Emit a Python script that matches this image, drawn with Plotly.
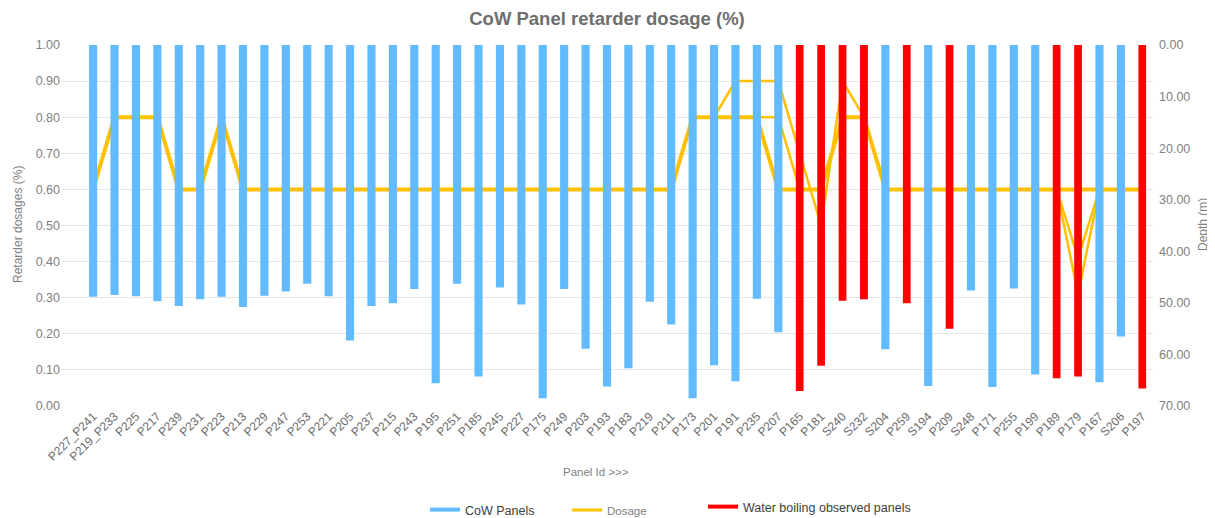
import plotly.graph_objects as go

panels = ["P227_P241", "P219_P233", "P225", "P217", "P239", "P231", "P223", "P213", "P229", "P247",
          "P253", "P221", "P205", "P237", "P215", "P243", "P195", "P251", "P185", "P245",
          "P227", "P175", "P249", "P203", "P193", "P183", "P219", "P211", "P173", "P201",
          "P191", "P235", "P207", "P165", "P181", "S240", "S232", "S204", "P259", "S194",
          "P209", "S248", "P171", "P255", "P199", "P189", "P179", "P167", "S206", "P197"]

depth_m = [48.8, 48.5, 48.7, 49.7, 50.6, 49.3, 48.8, 50.8, 48.6, 47.8,
           46.3, 48.7, 57.3, 50.6, 50.1, 47.3, 65.6, 46.3, 64.3, 47.0,
           50.3, 68.5, 47.3, 58.9, 66.2, 62.7, 49.8, 54.2, 68.5, 62.1,
           65.2, 49.2, 55.7, 67.1, 62.2, 49.6, 49.3, 59.0, 50.1, 66.1,
           55.0, 47.6, 66.3, 47.2, 63.9, 64.6, 64.3, 65.4, 56.5, 66.6]

boiling_panels = ["P165", "P181", "S240", "S232", "P259", "P209", "P189", "P179", "P197"]
cow_also_drawn = ["S232"]

dosage = [0.60, 0.80, 0.80, 0.80, 0.60, 0.60, 0.80, 0.60, 0.60, 0.60,
          0.60, 0.60, 0.60, 0.60, 0.60, 0.60, 0.60, 0.60, 0.60, 0.60,
          0.60, 0.60, 0.60, 0.60, 0.60, 0.60, 0.60, 0.60, 0.80, 0.80,
          0.80, 0.80, 0.60, 0.60, 0.60, 0.80, 0.80, 0.60, 0.60, 0.60,
          0.60, 0.60, 0.60, 0.60, 0.60, 0.60, 0.60, 0.60, 0.60, 0.60]

dosage_b = [0.60, 0.80, 0.80, 0.80, 0.60, 0.60, 0.80, 0.60, 0.60, 0.60,
            0.60, 0.60, 0.60, 0.60, 0.60, 0.60, 0.60, 0.60, 0.60, 0.60,
            0.60, 0.60, 0.60, 0.60, 0.60, 0.60, 0.60, 0.60, 0.80, 0.80,
            0.90, 0.90, 0.90, 0.70, 0.50, 0.90, 0.80, 0.60, 0.60, 0.60,
            0.60, 0.60, 0.60, 0.60, 0.60, 0.60, 0.31, 0.60, 0.60, 0.60]

dosage_c = [0.60, 0.80, 0.80, 0.80, 0.60, 0.60, 0.80, 0.60, 0.60, 0.60,
            0.60, 0.60, 0.60, 0.60, 0.60, 0.60, 0.60, 0.60, 0.60, 0.60,
            0.60, 0.60, 0.60, 0.60, 0.60, 0.60, 0.60, 0.60, 0.80, 0.80,
            0.80, 0.80, 0.80, 0.60, 0.60, 0.80, 0.80, 0.60, 0.60, 0.60,
            0.60, 0.60, 0.60, 0.60, 0.60, 0.60, 0.41, 0.60, 0.60, 0.60]

BLUE = "#62BAFF"
RED = "#FF0000"
GOLD = "#FFC000"
GREY = "#808080"
FONT = "Liberation Sans, Arial, sans-serif"

# page has an 8px body margin; plot area wanted at x 61..1153, y 45..406 on the page
OFF = 8
L, T = 61 - OFF, 45 - OFF
R = 1215 - (1153 - OFF)
B = 518 - (406 - OFF)
PW = 1092.0
PH = 361.0


def px_x(p):
    return (p - 61) / PW


def px_y(p):
    return (406 - p) / PH


cow = [d if (p not in boiling_panels or p in cow_also_drawn) else None for p, d in zip(panels, depth_m)]
boil = [d if p in boiling_panels else None for p, d in zip(panels, depth_m)]

fig = go.Figure()
fig.add_trace(go.Bar(x=panels, y=cow, base=0, yaxis="y2", marker=dict(color=BLUE, line=dict(width=0)),
                     width=0.38, showlegend=False, name="CoW Panels"))
fig.add_trace(go.Bar(x=panels, y=boil, base=0, yaxis="y2", marker=dict(color=RED, line=dict(width=0)),
                     width=0.36, showlegend=False, name="Water boiling observed panels"))
fig.add_trace(go.Scatter(x=panels, y=dosage_b, mode="lines", line=dict(color=GOLD, width=2.5),
                         showlegend=False))
fig.add_trace(go.Scatter(x=panels, y=dosage_c, mode="lines", line=dict(color=GOLD, width=2.5),
                         showlegend=False))
fig.add_trace(go.Scatter(x=panels, y=dosage, mode="lines", line=dict(color=GOLD, width=4),
                         showlegend=False, name="Dosage"))

# legend entries
fig.add_trace(go.Scatter(x=[None], y=[None], mode="lines", line=dict(color=BLUE, width=4),
                         name="CoW Panels", legend="legend"))
fig.add_trace(go.Scatter(x=[None], y=[None], mode="lines", line=dict(color=GOLD, width=3),
                         name="Dosage", legend="legend2"))
fig.add_trace(go.Scatter(x=[None], y=[None], mode="lines", line=dict(color=RED, width=4),
                         name="Water boiling observed panels", legend="legend3"))

fig.update_layout(
    width=1215, height=518,
    margin=dict(l=L, r=R, t=T, b=B, autoexpand=False),
    paper_bgcolor="white", plot_bgcolor="white",
    font=dict(family=FONT, color=GREY, size=12),
    title=dict(text="<b>CoW Panel retarder dosage (%)</b>", x=(607 - OFF) / 1215, xanchor="center",
               y=1 - (19 - OFF) / 518, yanchor="middle",
               font=dict(size=18.5, color="#6E6E6E", family=FONT)),
    barmode="overlay",
    xaxis=dict(type="category", range=[-1.5, 49.5], tickangle=-45, showgrid=False, showline=False,
               ticks="", tickfont=dict(size=12, color="#6A6A6A"), automargin=False),
    yaxis=dict(range=[0, 1], dtick=0.1, tickformat=".2f", showgrid=True, gridcolor="#E6E6E6", gridwidth=1,
               zeroline=False, tickfont=dict(size=12.5, color=GREY), ticklen=0, automargin=False),
    yaxis2=dict(range=[70, 0], dtick=10, tickformat=".2f", overlaying="y", side="right", showgrid=False,
                zeroline=False, tickfont=dict(size=12.5, color=GREY), automargin=False,
                ticklabelstandoff=5),
    annotations=[
        dict(text="Retarder dosages (%)", xref="paper", yref="paper", x=px_x(18), y=px_y(225),
             xanchor="center", yanchor="middle",
             textangle=-90, showarrow=False, font=dict(size=12, color=GREY)),
        dict(text="Depth (m)", xref="paper", yref="paper", x=px_x(1203), y=px_y(225),
             xanchor="center", yanchor="middle",
             textangle=-90, showarrow=False, font=dict(size=12, color=GREY)),
        dict(text="Panel Id >>>", xref="paper", yref="paper", x=px_x(596), y=px_y(472),
             xanchor="center", yanchor="middle",
             showarrow=False, font=dict(size=11.5, color=GREY)),
    ],
    legend=dict(orientation="h", x=px_x(425), xanchor="left", y=px_y(510), yanchor="middle",
                font=dict(size=12.5, color="#404040"), itemwidth=30, bgcolor="rgba(0,0,0,0)"),
    legend2=dict(orientation="h", x=px_x(567), xanchor="left", y=px_y(510), yanchor="middle",
                 font=dict(size=11.5, color=GREY), itemwidth=30, bgcolor="rgba(0,0,0,0)"),
    legend3=dict(orientation="h", x=px_x(703), xanchor="left", y=px_y(507), yanchor="middle",
                 font=dict(size=12.5, color="#404040"), itemwidth=30, bgcolor="rgba(0,0,0,0)"),
)

fig.write_html("out.html")
